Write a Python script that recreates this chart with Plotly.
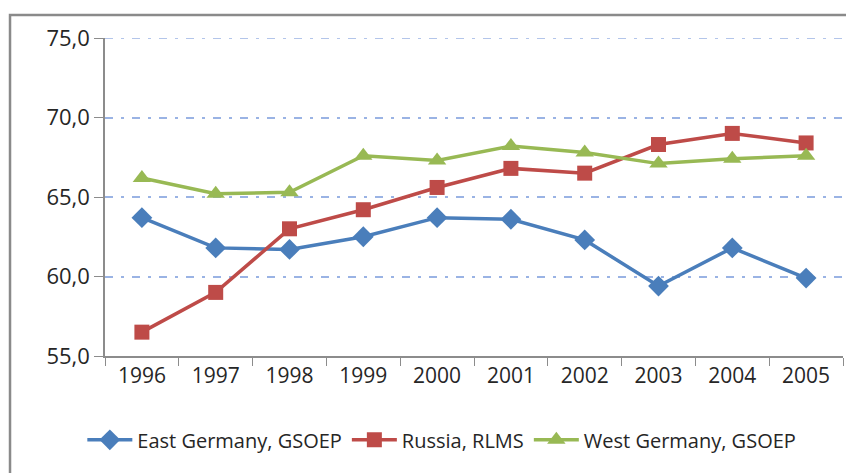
import plotly.graph_objects as go

years = ["1996", "1997", "1998", "1999", "2000", "2001", "2002", "2003", "2004", "2005"]
east_germany = [63.7, 61.8, 61.7, 62.5, 63.7, 63.6, 62.3, 59.4, 61.8, 59.9]
russia = [56.5, 59.0, 63.0, 64.2, 65.6, 66.8, 66.5, 68.3, 69.0, 68.4]
west_germany = [66.2, 65.2, 65.3, 67.6, 67.3, 68.2, 67.8, 67.1, 67.4, 67.6]
y_ticks = [55, 60, 65, 70, 75]
y_tick_labels = ["55,0", "60,0", "65,0", "70,0", "75,0"]

FONT = "Open Sans"
GRID_COLOR = "#9AB3E4"
GRID_DASH = "8px,8px,3px,8px"
fig = go.Figure()
fig.add_trace(go.Scatter(x=years, y=east_germany, name="East Germany, GSOEP", mode="lines+markers",
                         line=dict(color="#4A7EBB", width=3.5),
                         marker=dict(symbol="diamond", size=16, color="#4A7EBB")))
fig.add_trace(go.Scatter(x=years, y=russia, name="Russia, RLMS", mode="lines+markers",
                         line=dict(color="#BE4B48", width=3.5),
                         marker=dict(symbol="square", size=15, color="#BE4B48")))
fig.add_trace(go.Scatter(x=years, y=west_germany, name="West Germany, GSOEP", mode="lines+markers",
                         line=dict(color="#98B954", width=3.5),
                         marker=dict(symbol="triangle-up", size=16, color="#98B954")))

fig.update_layout(
    width=854, height=473,
    margin=dict(l=97, r=19, t=30, b=125, autoexpand=False),
    paper_bgcolor="white", plot_bgcolor="white",
    font=dict(family=FONT, size=21, color="#262626"),
    showlegend=True,
    legend=dict(orientation="h", xref="container", x=0.508, xanchor="center",
                yref="container", y=0.087, yanchor="middle",
                font=dict(size=20, family=FONT, color="#262626"), itemwidth=45,
                traceorder="normal"),
    xaxis=dict(type="category", showline=True, linecolor="#8C8C8C", linewidth=1.5,
               ticks="outside", tickson="boundaries", ticklen=8, tickcolor="#8C8C8C",
               showgrid=False, tickfont=dict(size=21), range=[-0.5, 9.5], automargin=False),
    yaxis=dict(range=[55, 75], tickvals=y_ticks, ticktext=y_tick_labels,
               showline=True, linecolor="#8C8C8C", linewidth=1.5,
               ticks="outside", ticklen=9, tickcolor="#8C8C8C",
               showgrid=True, gridcolor=GRID_COLOR, griddash=GRID_DASH, gridwidth=1.5,
               tickfont=dict(size=22), zeroline=False, automargin=False),
)
# top gridline (plotly omits the gridline lying on the plot edge)
fig.add_hline(y=y_ticks[-1], line=dict(color=GRID_COLOR, dash=GRID_DASH, width=1.5), layer="below")
fig.add_shape(type="rect", xref="paper", yref="paper",
              x0=-0.1287, x1=1.0108, y0=-0.5, y1=1.0723,
              line=dict(color="#8A8A8A", width=2.5), layer="below")
fig.write_html("out.html")
